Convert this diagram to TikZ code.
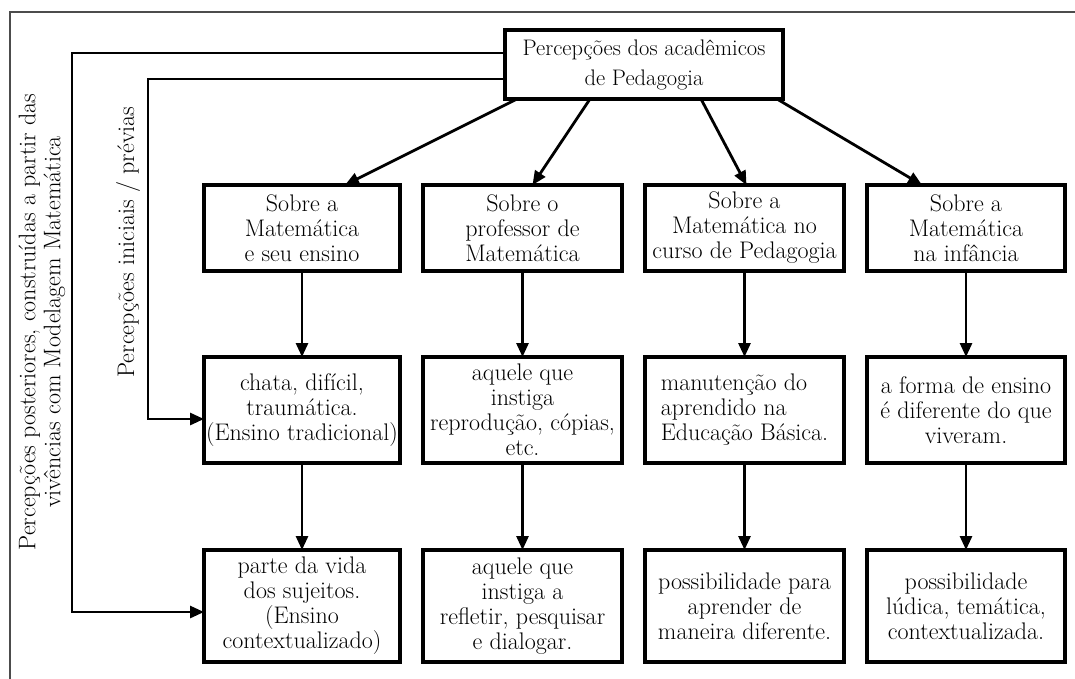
\documentclass[tikz,border=0pt]{standalone}
\usepackage{fontspec}
\usetikzlibrary{arrows.meta,calc}
\begin{document}
\begin{tikzpicture}[x=1pt,y=-1pt,
  every node/.style={inner sep=0pt, outer sep=0pt},
  txt/.style={font=\fontsize{24}{25}\selectfont},
  box/.style={draw, line width=4pt, align=center, txt, anchor=center},
  arr/.style={line width=2.8pt, -{Triangle[length=14pt,width=12pt]}},
  framecol/.style={draw=black!70, line width=2pt}
]
\useasboundingbox (0,0) rectangle (1075,678);
\draw[framecol] (10,690) -- (10,12) -- (1090,12);

% top node
\node[box, minimum width=278pt, minimum height=69pt, font=\fontsize{22.5}{30}\selectfont] (top) at (644,64.5) {Percepções dos acadêmicos\\de Pedagogia};

% row 1
\node[box, minimum width=196pt, minimum height=86pt] (a1) at (302,228) {Sobre a\\Matemática\\e seu ensino};
\node[box, minimum width=199pt, minimum height=86pt] (a2) at (522.5,228) {Sobre o\\professor de\\Matemática};
\node[box, minimum width=199pt, minimum height=86pt] (a3) at (744.5,228) {Sobre a\\Matemática no\\curso de Pedagogia};
\node[box, minimum width=198pt, minimum height=86pt] (a4) at (966,228) {Sobre a\\Matemática\\na infância};

% row 2
\node[box, minimum width=196pt, minimum height=106pt] (b1) at (302,410) {chata, difícil,\\traumática.\\(Ensino tradicional)};
\node[box, minimum width=199pt, minimum height=106pt] (b2) at (522.5,410) {aquele que\\instiga\\reprodução, cópias,\\etc.};
\node[box, minimum width=199pt, minimum height=106pt, align=left] (b3) at (744.5,410) {manutenção do\\aprendido na\\Educação Básica.};
\node[box, minimum width=198pt, minimum height=106pt] (b4) at (966,410) {a forma de ensino\\é diferente do que\\viveram.};

% row 3
\node[box, minimum width=196pt, minimum height=112pt] (c1) at (302,606) {parte da vida\\dos sujeitos.\\(Ensino\\contextualizado)};
\node[box, minimum width=199pt, minimum height=112pt] (c2) at (522.5,606) {aquele que\\instiga a\\refletir, pesquisar\\e dialogar.};
\node[box, minimum width=199pt, minimum height=112pt] (c3) at (744.5,606) {possibilidade para\\aprender de\\maneira diferente.};
\node[box, minimum width=198pt, minimum height=112pt] (c4) at (966,606) {possibilidade\\lúdica, temática,\\contextualizada.};

% side labels
\node[txt, rotate=90, align=center, font=\fontsize{24}{25}\selectfont] (lab1) at (42,322) {Percepções posteriores, construídas a partir das\\vivências com Modelagem Matemática};
\node[txt, rotate=90] (lab2) at (128,242) {Percepções iniciais / prévias};

% arrows from top
\draw[arr] ([xshift=12pt]top.south west) -- ([xshift=43pt]a1.north);
\draw[arr] ([xshift=85pt]top.south west) -- ([xshift=10pt]a2.north);
\draw[arr] ([xshift=196pt]top.south west) -- ([xshift=2pt]a3.north);
\draw[arr] ([xshift=-6pt]top.south east) -- ([xshift=-44pt]a4.north);

% vertical arrows
\foreach \i in {1,2,3,4} {
  \draw[arr] (a\i.south) -- (b\i.north);
  \draw[arr] (b\i.south) -- (c\i.north);
}

% left connectors
\coordinate (o1) at (72,53);
\coordinate (o2) at (72,612);
\coordinate (i1) at (148,79);
\coordinate (i2) at (148,419);
\draw[arr] ([yshift=11.5pt]top.west) -- (o1) -- (o2) -- (o2 -| c1.west);
\draw[arr] ([yshift=-14.5pt]top.west) -- (i1) -- (i2) -- (i2 -| b1.west);
\end{tikzpicture}
\end{document}
